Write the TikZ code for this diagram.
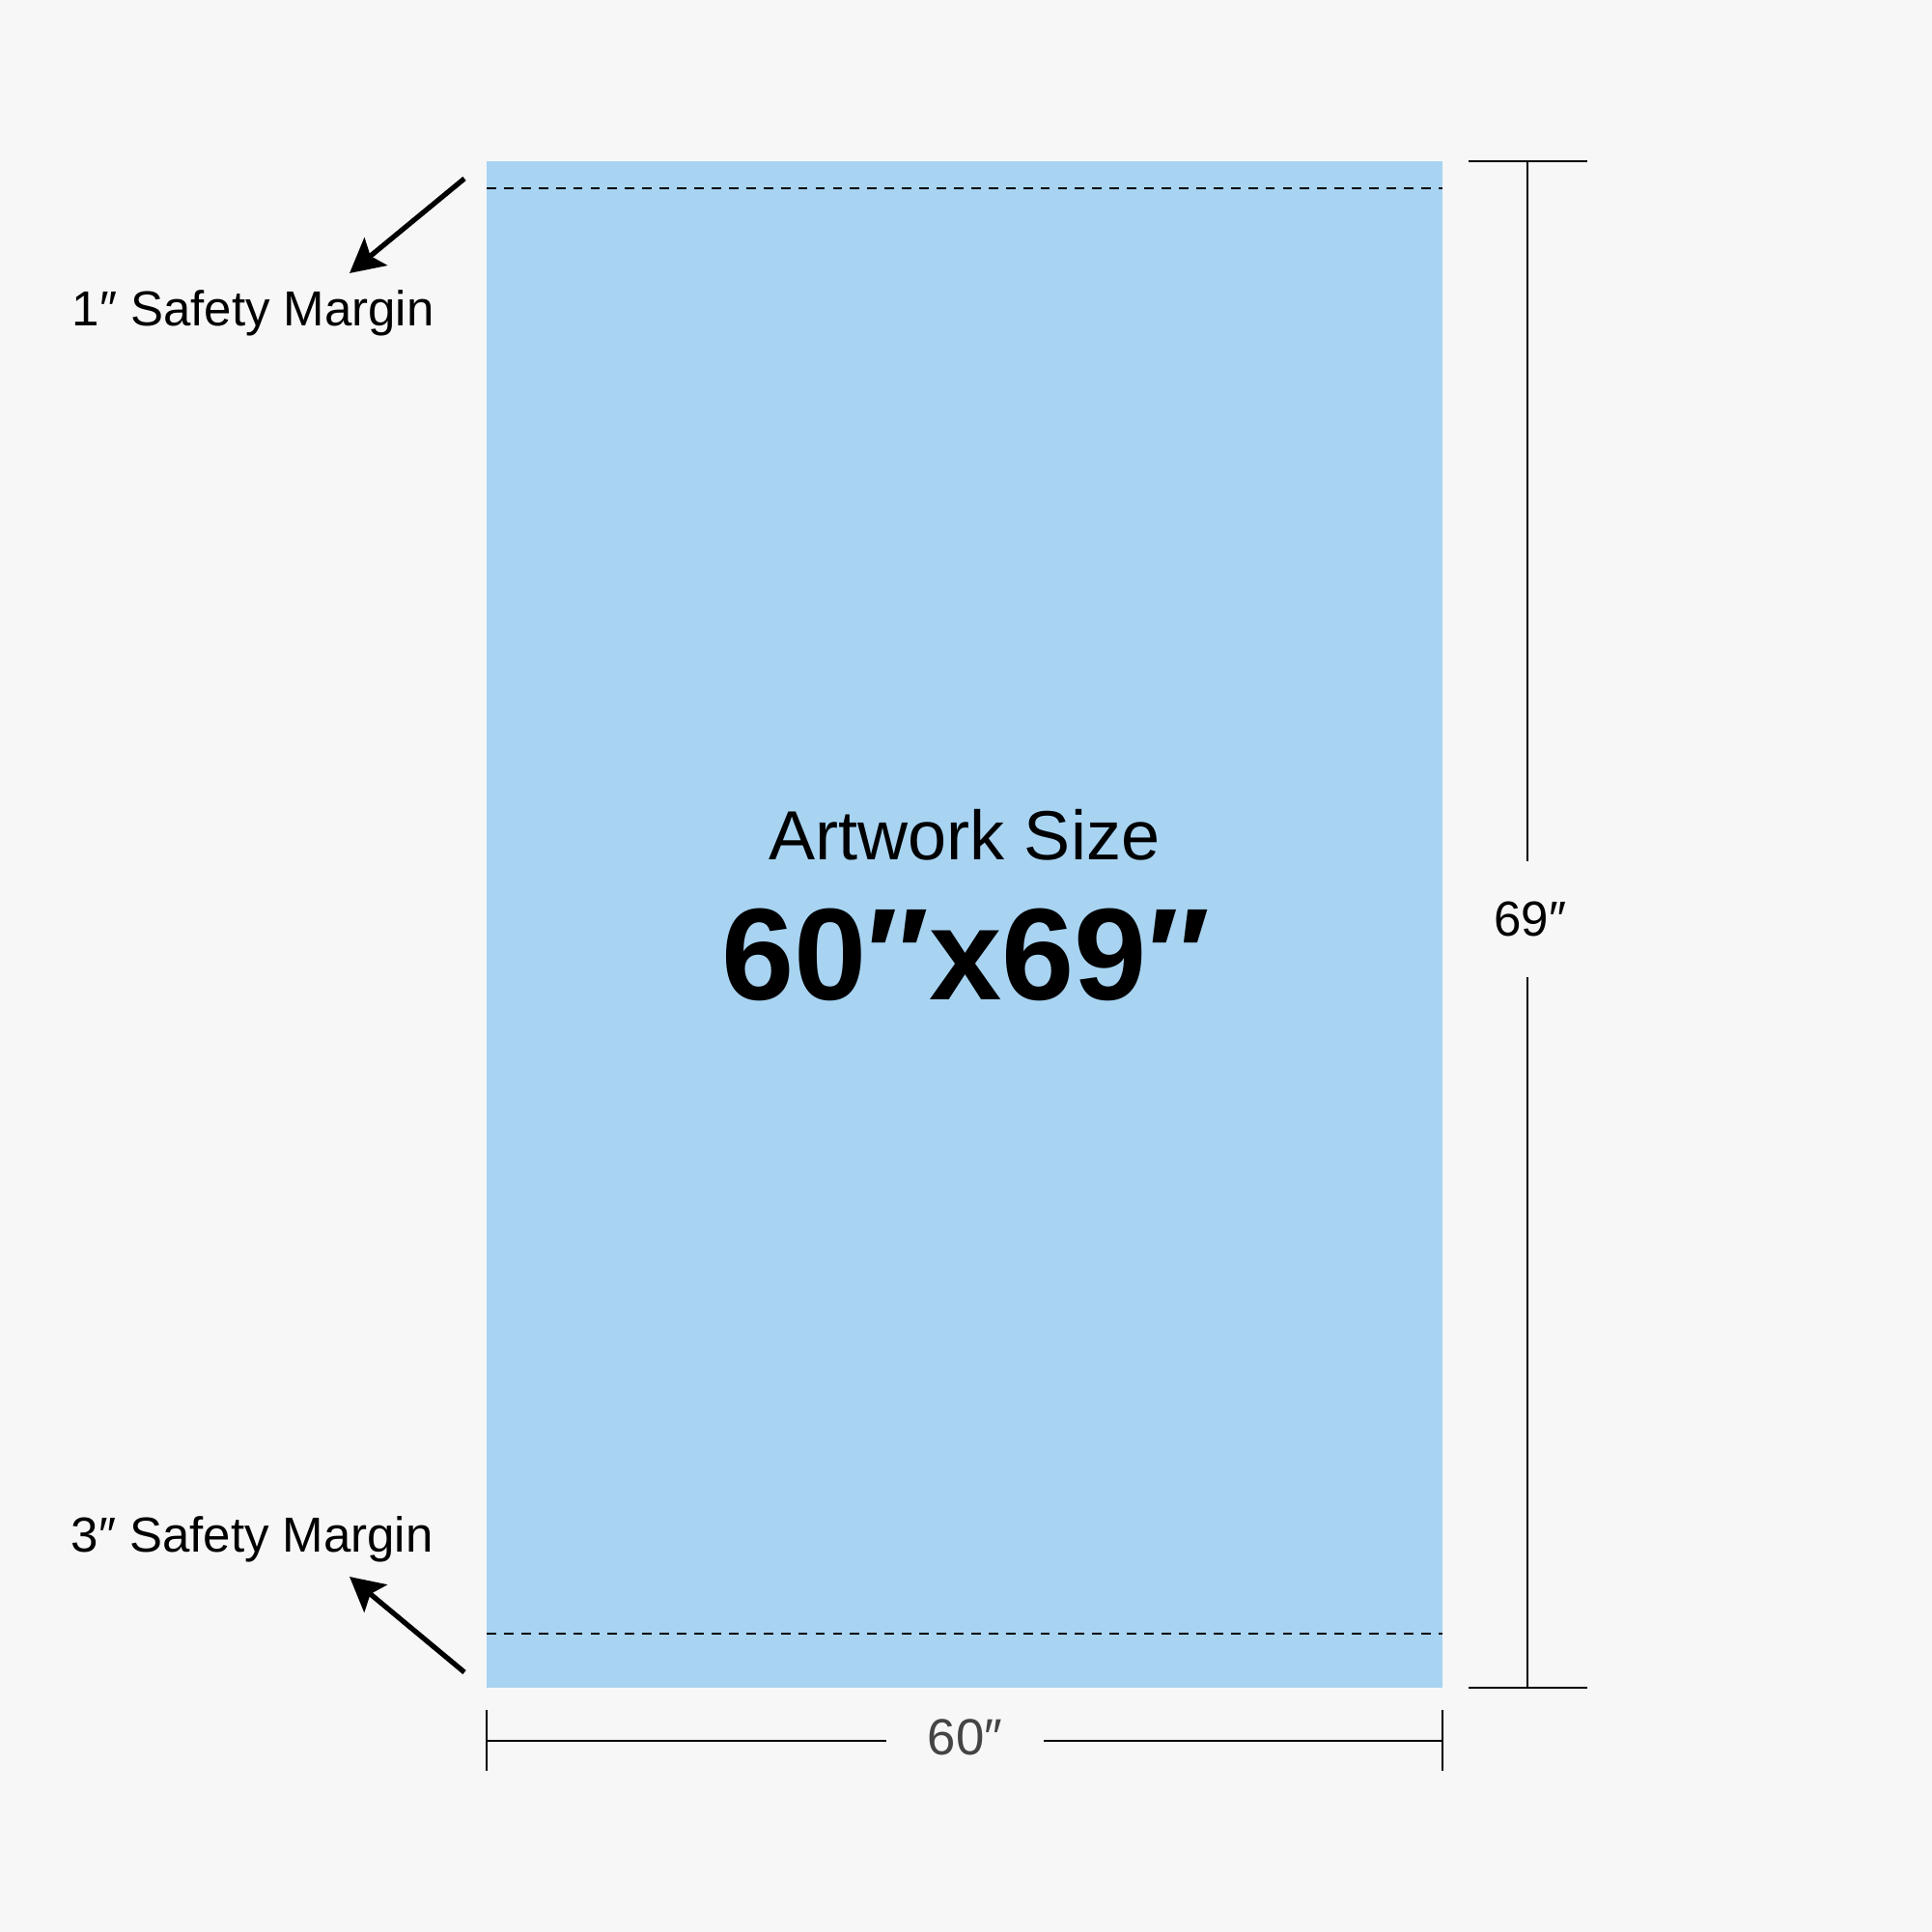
\documentclass[tikz,border=0pt]{standalone}
\usepackage{fontspec}
\setmainfont{Liberation Sans}
\usetikzlibrary{arrows.meta}
\definecolor{bgcolor}{HTML}{F7F7F7}
\definecolor{artcolor}{HTML}{A8D4F2}
\definecolor{dimtext}{HTML}{444444}
\tikzset{
  dimline/.style={line width=0.6pt},
  marginline/.style={dashed,dash pattern=on 2.8pt off 2.3pt,line width=0.4pt},
  pointer/.style={line width=1.5pt,-{Stealth[length=10pt,width=10.5pt,inset=2pt]}},
  label/.style={inner sep=0pt,font=\fontsize{14.5}{18}\selectfont}
}
\begin{document}
\begin{tikzpicture}
   % canvas
   \fill [bgcolor] (0,0) rectangle (20.01,20.01);
   \useasboundingbox (0,0) rectangle (20.01,20.01);
   % artwork area
   \fill [artcolor] (5.04,2.53) rectangle (14.94,18.34);
   \draw [marginline] (5.04,18.06) -- (14.94,18.06);
   \draw [marginline] (5.04,3.09) -- (14.94,3.09);
   \node (title) [anchor=base,inner sep=0pt,font=\fontsize{20.5}{24}\selectfont] at (9.99,11.1) {Artwork Size};
   \node (size) [anchor=base,inner sep=0pt,font=\fontsize{38.5}{46}\selectfont\bfseries] at (10.0,9.65) {60″x69″};
   % safety margins
   \node (topmargin) [label,anchor=base west] at (0.74,16.63) {1″ Safety Margin};
   \node (botmargin) [label,anchor=base west] at (0.73,3.93) {3″ Safety Margin};
   \coordinate (toptail) at (4.81,18.16);
   \coordinate (toptip) at (3.62,17.18);
   \coordinate (bottail) at (4.81,2.69);
   \coordinate (bottip) at (3.62,3.68);
   \draw [pointer] (toptail) -- (toptip);
   \draw [pointer] (bottail) -- (bottip);
   % height dimension
   \coordinate (htop) at (15.82,18.34);
   \coordinate (hbot) at (15.82,2.53);
   \draw [dimline] (15.21,18.34) -- (16.44,18.34);
   \draw [dimline] (15.21,2.53) -- (16.44,2.53);
   \node (height) [label,minimum height=1.19cm,text depth=0pt] at (15.85,10.49) {69″};
   \draw [dimline] (htop) -- (htop |- height.north);
   \draw [dimline] (hbot) -- (hbot |- height.south);
   % width dimension
   \coordinate (wleft) at (5.04,1.98);
   \coordinate (wright) at (14.94,1.98);
   \draw [dimline] (5.04,2.30) -- (5.04,1.67);
   \draw [dimline] (14.94,2.30) -- (14.94,1.67);
   \node (width) [label,text=dimtext,minimum width=1.61cm,font=\fontsize{15}{18}\selectfont] at (9.995,2.02) {60″};
   \draw [dimline] (wleft) -- (wleft -| width.west);
   \draw [dimline] (wright) -- (wright -| width.east);
\end{tikzpicture}
\end{document}
